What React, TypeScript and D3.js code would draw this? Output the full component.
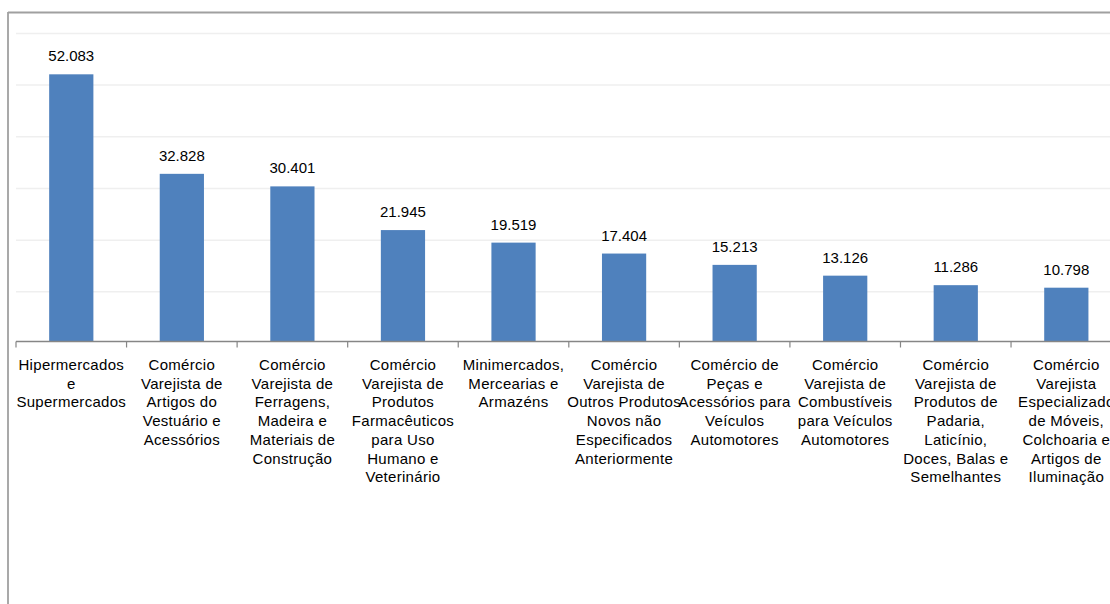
import React from "react";
import * as d3 from "d3";

const categories: string[][] = [
  ["Hipermercados", "e", "Supermercados"],
  ["Comércio", "Varejista de", "Artigos do", "Vestuário e", "Acessórios"],
  ["Comércio", "Varejista de", "Ferragens,", "Madeira e", "Materiais de", "Construção"],
  ["Comércio", "Varejista de", "Produtos", "Farmacêuticos", "para Uso", "Humano e", "Veterinário"],
  ["Minimercados,", "Mercearias e", "Armazéns"],
  ["Comércio", "Varejista de", "Outros Produtos", "Novos não", "Especificados", "Anteriormente"],
  ["Comércio de", "Peças e", "Acessórios para", "Veículos", "Automotores"],
  ["Comércio", "Varejista de", "Combustíveis", "para Veículos", "Automotores"],
  ["Comércio", "Varejista de", "Produtos de", "Padaria,", "Laticínio,", "Doces, Balas e", "Semelhantes"],
  ["Comércio", "Varejista", "Especializado", "de Móveis,", "Colchoaria e", "Artigos de", "Iluminação"],
];

const values: number[] = [52083, 32828, 30401, 21945, 19519, 17404, 15213, 13126, 11286, 10798];

const gridValues: number[] = [10000, 20000, 30000, 40000, 50000, 60000];

const W = 1110;
const H = 604;
const x0 = 16;
const band = 110.56;
const axisY = 341.5;

export default function App() {
  const ids = values.map((_, i) => String(i));
  const x = d3
    .scaleBand<string>()
    .domain(ids)
    .range([x0, x0 + band * ids.length])
    .paddingInner(0.6)
    .paddingOuter(0.3);
  const xTick = d3
    .scaleBand<string>()
    .domain(ids)
    .range([x0, x0 + band * ids.length]);
  const y = d3.scaleLinear().domain([0, 60000]).range([343.5, 33.4]);
  const fmt = (v: number) => d3.format(",")(v).replace(/,/g, ".");
  const font = "'Liberation Sans', Arial, sans-serif";

  return (
    <svg
      width={W}
      height={H}
      style={{ position: "absolute", left: 0, top: 0, background: "#fff" }}
      fontFamily={font}
    >
      <rect x={0} y={0} width={W} height={H} fill="#fff" />
      {gridValues.map((g) => (
        <line
          key={g}
          x1={x0}
          x2={W}
          y1={y(g)}
          y2={y(g)}
          stroke="#efefef"
          strokeWidth={1.5}
        />
      ))}
      {values.map((v, i) => (
        <rect
          key={i}
          x={x(String(i))}
          y={y(v)}
          width={x.bandwidth()}
          height={axisY - y(v)}
          fill="#4f81bd"
        />
      ))}
      {values.map((v, i) => (
        <text
          key={"v" + i}
          x={(x(String(i)) as number) + x.bandwidth() / 2}
          y={y(v) - 13}
          textAnchor="middle"
          fontSize={15}
          fill="#000"
        >
          {fmt(v)}
        </text>
      ))}
      <line x1={x0} x2={W} y1={axisY} y2={axisY} stroke="#868686" strokeWidth={1.5} />
      {ids.concat(["end"]).map((id, i) => {
        const tx = x0 + i * xTick.bandwidth();
        return (
          <line
            key={"t" + id}
            x1={tx}
            x2={tx}
            y1={axisY}
            y2={axisY + 6}
            stroke="#868686"
            strokeWidth={1.2}
          />
        );
      })}
      {categories.map((lines, i) => {
        const cx = (xTick(String(i)) as number) + xTick.bandwidth() / 2;
        return (
          <text key={"c" + i} textAnchor="middle" fontSize={15} fill="#000" letterSpacing={0.3}>
            {lines.map((ln, j) => (
              <tspan key={j} x={cx} y={370 + j * 18.7}>
                {ln}
              </tspan>
            ))}
          </text>
        );
      })}
      <line x1={8} x2={8} y1={12} y2={H} stroke="#a0a0a0" strokeWidth={1.8} />
      <line x1={8} x2={W} y1={12.5} y2={12.5} stroke="#a0a0a0" strokeWidth={1.8} />
    </svg>
  );
}
